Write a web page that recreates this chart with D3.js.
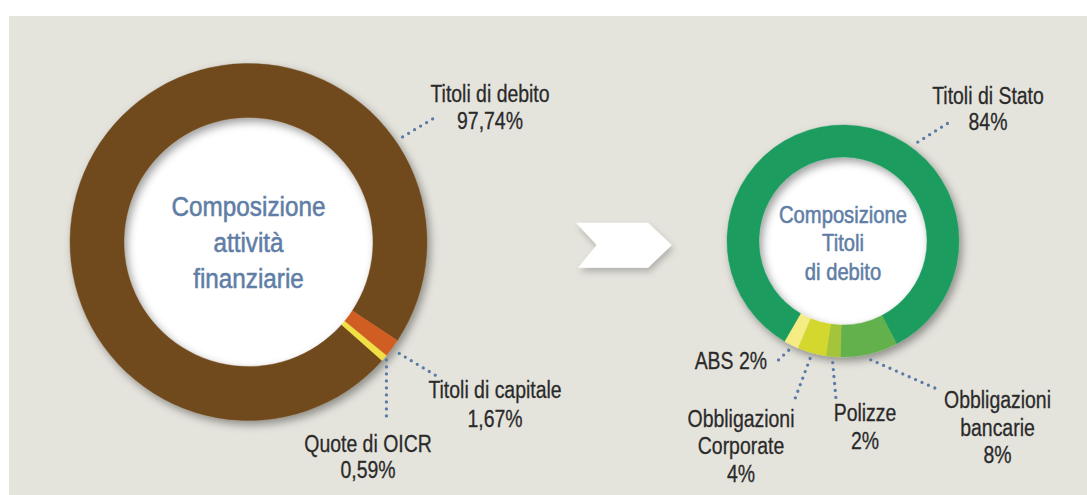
<!DOCTYPE html>
<html>
<head>
<meta charset="utf-8">
<script src="https://cdn.jsdelivr.net/npm/d3@7/dist/d3.min.js"></script>
<style>
  html, body { margin: 0; padding: 0; background: #ffffff; }
  svg { display: block; }
  text { font-family: "Liberation Sans", Arial, sans-serif; }
</style>
</head>
<body>
<svg id="chart" width="1087" height="495"></svg>
<script>
// ---------- DATA ----------
const leftCategories = ["Titoli di debito", "Titoli di capitale", "Quote di OICR"];
const leftValues = [97.74, 1.67, 0.59];
const leftValueLabels = ["97,74%", "1,67%", "0,59%"];
const leftColors = ["#6f4a1d", "#d05d22", "#f0df45"];
const leftTitle = ["Composizione", "attività", "finanziarie"];
const leftLabelLines = [["Titoli di debito", "97,74%"], ["Titoli di capitale", "1,67%"], ["Quote di OICR", "0,59%"]];

const rightCategories = ["Titoli di Stato", "Obbligazioni bancarie", "Polizze", "Obbligazioni Corporate", "ABS"];
const rightValues = [84, 8, 2, 4, 2];
const rightValueLabels = ["84%", "8%", "2%", "4%", "2%"];
const rightColors = ["#1e9c5f", "#64b14e", "#a3c43a", "#d3d72f", "#f5ec84"];
const rightTitle = ["Composizione", "Titoli", "di debito"];
const rightLabelLines = [["Titoli di Stato", "84%"], ["Obbligazioni", "bancarie", "8%"], ["Polizze", "2%"], ["Obbligazioni", "Corporate", "4%"], ["ABS 2%"]];

// ---------- LAYOUT ----------
const deg = Math.PI / 180;
const LABEL_SIZE = 24, LABEL_SX = 0.81;
const leftDonut = { cx: 248.5, cy: 242, R: 178.5, r: 124.5, start: 131.6, titleSize: 27, titleSX: 0.9, titleBase: 215.7, titleStep: 36 };
const rightDonut = { cx: 843, cy: 241, R: 116, r: 84, start: 210.05, titleSize: 23.5, titleSX: 0.86, titleBase: 222.7, titleStep: 28.7 };

// leader: angle (deg, null = slice middle), radial offset from R, end point; label: x, first baseline, anchor
const leftLeaders = [
  { angle: 55.7, off: 8, end: [438, 115.7], lx: 490, ly: 101.7, anchor: "middle", step: 27.6 },
  { angle: null, off: 9, end: [436.7, 376], lx: 495, ly: 398, anchor: "middle", step: 28.5 },
  { angle: null, off: 3, end: null, endY: 416, lx: 368, ly: 451.7, anchor: "middle", step: 26 }
];
const rightLeaders = [
  { angle: 37.1, off: 8, end: [953, 120], lx: 988, ly: 104, anchor: "middle", step: 26 },
  { angle: null, off: 6, end: [939.3, 390], lx: 997.5, ly: 408, anchor: "middle", step: 27.6 },
  { angle: null, off: 6, end: [836, 399.3], lx: 865, ly: 421, anchor: "middle", step: 28 },
  { angle: null, off: 6, end: [793.3, 403.3], lx: 741, ly: 426.7, anchor: "middle", step: 27.6 },
  { angle: null, off: 6, end: [776.7, 361.7], lx: 767, ly: 369, anchor: "end", step: 27 }
];

const svg = d3.select("#chart");
const defs = svg.append("defs");
const f = defs.append("filter").attr("id", "ringShadow")
  .attr("x", "-20%").attr("y", "-20%").attr("width", "140%").attr("height", "140%");
f.append("feDropShadow").attr("dx", 3).attr("dy", 4).attr("stdDeviation", 4.5)
  .attr("flood-color", "#000").attr("flood-opacity", 0.38);
const f2 = defs.append("filter").attr("id", "arrowShadow")
  .attr("x", "-20%").attr("y", "-30%").attr("width", "140%").attr("height", "170%");
f2.append("feDropShadow").attr("dx", 2).attr("dy", 4).attr("stdDeviation", 3)
  .attr("flood-color", "#000").attr("flood-opacity", 0.22);

// background panel
svg.append("rect").attr("x", 9).attr("y", 16).attr("width", 1078).attr("height", 479).attr("fill", "#e4e3dc");

// condensed text line: real text, narrowed horizontally, slightly heavier stroke
function textLine(parent, x, y, s, size, sx, anchor, fill, weight) {
  parent.append("text")
    .attr("transform", `translate(${x},${y}) scale(${sx},1)`)
    .attr("text-anchor", anchor).attr("font-size", size).attr("fill", fill)
    .attr("stroke", fill).attr("stroke-width", weight)
    .text(s);
}

function drawDonut(cfg, values, colors, titleLines, leaders, labelLines) {
  const g = svg.append("g").attr("transform", `translate(${cfg.cx},${cfg.cy})`);
  const pie = d3.pie().sort(null).value(d => d)
    .startAngle(cfg.start * deg).endAngle(cfg.start * deg + 2 * Math.PI);
  const arcs = pie(values);
  const arc = d3.arc().innerRadius(cfg.r).outerRadius(cfg.R);

  g.append("circle").attr("r", cfg.r + 2).attr("fill", "#ffffff");
  const ring = g.append("g").attr("filter", "url(#ringShadow)");
  ring.selectAll("path").data(arcs).join("path")
    .attr("d", arc).attr("fill", (d, i) => colors[i])
    .attr("stroke", (d, i) => colors[i]).attr("stroke-width", 0.4);

  // title
  titleLines.forEach((s, i) => {
    textLine(g, 0, cfg.titleBase - cfg.cy + i * cfg.titleStep, s, cfg.titleSize, cfg.titleSX, "middle", "#5f7ea6", 0.55);
  });

  // leaders and labels
  leaders.forEach((L, i) => {
    const a = L.angle == null ? (arcs[i].startAngle + arcs[i].endAngle) / 2 : L.angle * deg;
    const rr = cfg.R + L.off;
    const sx = cfg.cx + rr * Math.sin(a), sy = cfg.cy - rr * Math.cos(a);
    const ex = L.end ? L.end[0] : sx, ey = L.end ? L.end[1] : L.endY;
    svg.append("line").attr("x1", sx).attr("y1", sy).attr("x2", ex).attr("y2", ey)
      .attr("stroke", "#5b7ba7").attr("stroke-width", 3.3)
      .attr("stroke-linecap", "round").attr("stroke-dasharray", "0 7");
    const lg = svg.append("g");
    labelLines[i].forEach((s, j) => {
      textLine(lg, L.lx, L.ly + j * L.step, s, LABEL_SIZE, LABEL_SX, L.anchor, "#2a2a2a", 0.3);
    });
  });
}

drawDonut(leftDonut, leftValues, leftColors, leftTitle, leftLeaders, leftLabelLines);
drawDonut(rightDonut, rightValues, rightColors, rightTitle, rightLeaders, rightLabelLines);

// chevron arrow
svg.append("path")
  .attr("d", "M576,222.7 L648,222.7 L671.7,245 L648,267.7 L578,267.7 L596.7,245 Z")
  .attr("fill", "#ffffff").attr("filter", "url(#arrowShadow)");
</script>
</body>
</html>
